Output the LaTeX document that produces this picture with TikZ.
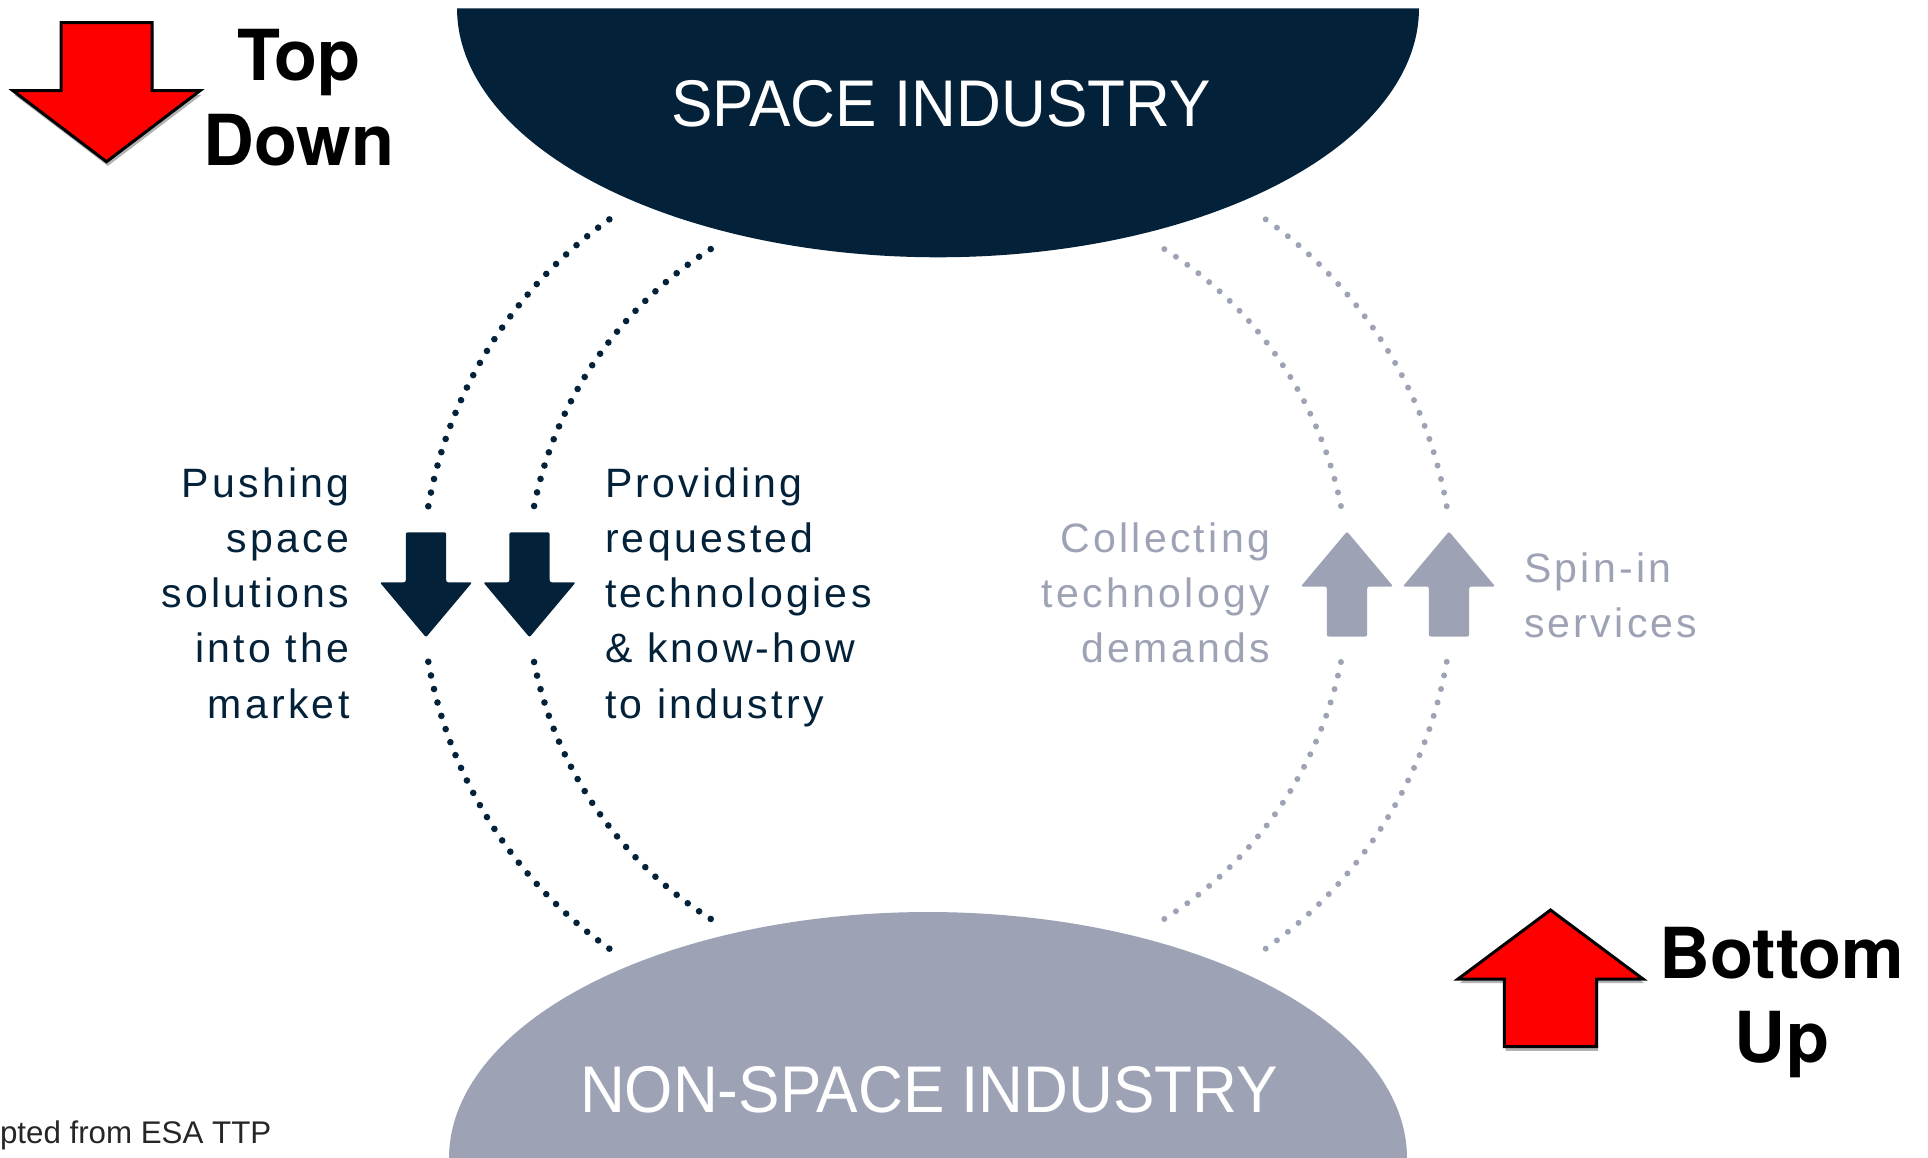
\documentclass[tikz,border=0pt]{standalone}
\usepackage{fontspec}
\usepackage{graphicx}
\setmainfont{Liberation Sans}
\newfontfamily\bodyfont[LetterSpace=8]{Liberation Sans}
\newfontfamily\titlefont{Liberation Sans}
\newfontfamily\herosfont{TeX Gyre Heros}
\usetikzlibrary{shadows}
\definecolor{navy}{HTML}{03223A}
\definecolor{slate}{HTML}{9DA3B5}
\definecolor{redarrow}{HTML}{FF0000}
\begin{document}
\begin{tikzpicture}[x=0.01cm,y=-0.01cm,
  txt/.style={inner sep=0pt, outer sep=0pt},
  body/.style={txt, font=\bodyfont\fontsize{11.67pt}{15.7pt}\selectfont},
  title/.style={txt, text=white, anchor=base, font=\titlefont\fontsize{18.78pt}{22pt}\selectfont},
  big/.style={txt, anchor=base, font=\herosfont\bfseries\fontsize{20pt}{24pt}\selectfont},
  redarr/.style={fill=redarrow, draw=black, line width=0.03cm, line join=miter,
     drop shadow={shadow xshift=0.4pt, shadow yshift=-1.2pt, opacity=0.3, fill=black}}
]
\useasboundingbox (0,0) rectangle (1928,1157);

% industries
\fill[navy] plot[domain=0:180, samples=150] ({938+481*cos(\x)},{8.3+249*sin(\x)}) -- cycle;
\fill[slate] plot[domain=180:360, samples=150] ({928+479*cos(\x)},{1158+246*sin(\x)}) -- cycle;
\node[title] (space) at (941,126.7) {\scalebox{0.94}[1]{SPACE INDUSTRY}};
\node[title] (nonspace) at (929,1112.3) {\scalebox{0.94}[1]{NON-SPACE INDUSTRY}};

% dotted arcs, left (navy): outer 26 dots, inner 24 dots per half
\foreach \i in {0,...,25}{
  \pgfmathsetmacro{\a}{190+1.78*\i}
  \pgfmathsetmacro{\b}{170-1.78*\i}
  \fill[navy] ({869.4+447.9*cos(\a)},{584+447.9*sin(\a)}) circle[radius=0.033cm];
  \fill[navy] ({869.4+447.9*cos(\b)},{584+447.9*sin(\b)}) circle[radius=0.033cm];
  \pgfmathsetmacro{\c}{-10-1.78*\i}
  \pgfmathsetmacro{\d}{10+1.78*\i}
  \fill[slate] ({1005.6+447.9*cos(\c)},{584+447.9*sin(\c)}) circle[radius=0.03cm];
  \fill[slate] ({1005.6+447.9*cos(\d)},{584+447.9*sin(\d)}) circle[radius=0.03cm];
}
\foreach \i in {0,...,23}{
  \pgfmathsetmacro{\a}{191.35+2.01391*\i}
  \pgfmathsetmacro{\b}{168.65-2.01391*\i}
  \fill[navy] ({922.7+396.4*cos(\a)},{584+396.4*sin(\a)}) circle[radius=0.033cm];
  \fill[navy] ({922.7+396.4*cos(\b)},{584+396.4*sin(\b)}) circle[radius=0.033cm];
  \pgfmathsetmacro{\c}{-11.35-2.01391*\i}
  \pgfmathsetmacro{\d}{11.35+2.01391*\i}
  \fill[slate] ({952.3+396.4*cos(\c)},{584+396.4*sin(\c)}) circle[radius=0.03cm];
  \fill[slate] ({952.3+396.4*cos(\d)},{584+396.4*sin(\d)}) circle[radius=0.03cm];
}

% flow arrows
\foreach \c in {426,529.5}{
  \fill[navy, rounded corners=0.02cm] ({\c-20.2},532.3) -- ({\c+20.2},532.3) -- ({\c+20.2},582.3)
    -- ({\c+46.2},582.3) -- (\c,637.3) -- ({\c-46.2},582.3) -- ({\c-20.2},582.3) -- cycle;
}
\foreach \c in {1347,1449}{
  \fill[slate, rounded corners=0.02cm] ({\c-20.2},636.5) -- ({\c+20.2},636.5) -- ({\c+20.2},586.5)
    -- ({\c+46.2},586.5) -- (\c,531.5) -- ({\c-46.2},586.5) -- ({\c-20.2},586.5) -- cycle;
}

% texts left
\node[body, text=navy, anchor=base east] (l1) at (349.5,497) {Pushing};
\node[body, text=navy, anchor=base east] (l2) at (349.5,552.25) {space};
\node[body, text=navy, anchor=base east] (l3) at (349.5,607.5) {solutions};
\node[body, text=navy, anchor=base east] (l4) at (349.5,662.75) {into the};
\node[body, text=navy, anchor=base east] (l5) at (349.5,718) {market};

\node[body, text=navy, anchor=base west] (m1) at (605,497) {Providing};
\node[body, text=navy, anchor=base west] (m2) at (605,552.25) {requested};
\node[body, text=navy, anchor=base west] (m3) at (605,607.5) {technologies};
\node[body, text=navy, anchor=base west] (m4) at (605,662.75) {\& know-how};
\node[body, text=navy, anchor=base west] (m5) at (605,718) {to industry};

% texts right
\node[body, text=slate, anchor=base east] (c1) at (1270,552.25) {Collecting};
\node[body, text=slate, anchor=base east] (c2) at (1270,607.5) {technology};
\node[body, text=slate, anchor=base east] (c3) at (1270,662.75) {demands};

\node[body, text=slate, anchor=base west] (s1) at (1524,582) {Spin-in};
\node[body, text=slate, anchor=base west] (s2) at (1524,637) {services};

% red arrows
\path[redarr] (61,22.7) -- (152,22.7) -- (152,90.7) -- (200,90.7) -- (106.5,161.7) -- (13,90.7) -- (61,90.7) -- cycle;
\path[redarr] (1550.5,910) -- (1643,979) -- (1596.7,979) -- (1596.7,1046.7) -- (1504.3,1046.7) -- (1504.3,979) -- (1458,979) -- cycle;

\node[big] (top) at (299,80) {Top};
\node[big] (down) at (299,165) {Down};
\node[big] (bottom) at (1782,978) {Bottom};
\node[big] (up) at (1782,1062) {Up};

% source
\node[txt, anchor=base west, text=black!85, font=\fontsize{8.9pt}{10pt}\selectfont] (src) at (0,1143) {pted from ESA TTP};
\end{tikzpicture}
\end{document}
